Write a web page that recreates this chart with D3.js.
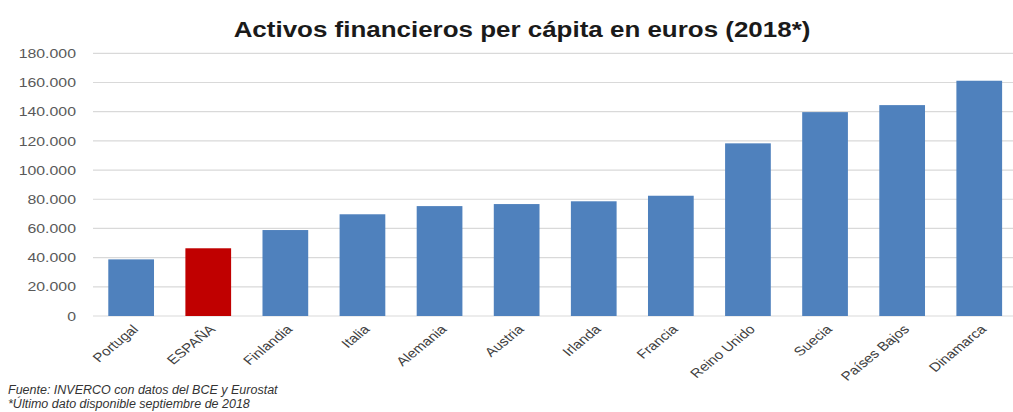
<!DOCTYPE html>
<html>
<head>
<meta charset="utf-8">
<script src="https://cdn.jsdelivr.net/npm/d3@7"></script>
<style>
  body { margin: 0; background: #fff; }
  text { font-family: "Liberation Sans", Arial, sans-serif; }
</style>
</head>
<body>
<div class="canvas"></div>
<script>
// data
const paises = ['Portugal', 'ESPAÑA', 'Finlandia', 'Italia', 'Alemania', 'Austria',
                'Irlanda', 'Francia', 'Reino Unido', 'Suecia', 'Países Bajos', 'Dinamarca']
const activos = [38800, 46400, 58900, 69700, 75300, 76700, 78600, 82400, 118300, 139700, 144500, 161200]
const yTicks = [0, 20000, 40000, 60000, 80000, 100000, 120000, 140000, 160000, 180000]
const destacado = 'ESPAÑA'

const W = 1013, H = 412
// the original picture is a bit stretched sideways
const stretch = 1.22

const svg = d3.select('.canvas').append('svg')
            .attr('width', W)
            .attr('height', H)

const locale = d3.formatLocale({decimal: ',', thousands: '.', grouping: [3], currency: ['', '€']})
const fmt = locale.format(',')

//scales
const y = d3.scaleLinear()
            .domain([0, 180000])
            .range([316, 53.3])

const x = d3.scaleBand()
            .domain(paises)
            .range([92.6, 1017.8])
            .paddingInner(0.407)
            .paddingOuter(0.2035)

//title
svg.append('text')
    .attr('transform', `translate(522, 37) scale(1.18, 1)`)
    .attr('text-anchor', 'middle')
    .attr('font-size', 22)
    .attr('font-weight', 'bold')
    .attr('fill', '#1a1a1a')
    .text('Activos financieros per cápita en euros (2018*)')

//gridlines + y labels
const yAxis = svg.append('g')
    .call(d3.axisLeft(y).tickValues(yTicks).tickFormat(d => fmt(d)).tickSize(0).tickPadding(0))
    .attr('transform', 'translate(76,0)')
yAxis.select('.domain').remove()
yAxis.selectAll('text')
    .attr('font-size', 13)
    .attr('fill', '#595959')
    .attr('font-family', '"Liberation Sans", Arial, sans-serif')
    .attr('transform', `scale(${stretch}, 1)`)

svg.append('g').selectAll('line')
    .data(yTicks)
    .enter().append('line')
    .attr('x1', 93)
    .attr('x2', W)
    .attr('y1', d => y(d))
    .attr('y2', d => y(d))
    .attr('stroke', '#d9d9d9')
    .attr('stroke-width', 1.2)

//bars
svg.append('g').selectAll('rect')
    .data(paises)
    .enter().append('rect')
    .attr('x', d => x(d))
    .attr('width', x.bandwidth())
    .attr('y', (d, i) => y(activos[i]))
    .attr('height', (d, i) => y(0) - y(activos[i]))
    .attr('fill', d => d === destacado ? '#c00000' : '#4f81bd')

//x labels, rotated
svg.append('g').selectAll('text')
    .data(paises)
    .enter().append('text')
    .attr('transform', d => `translate(${x(d) + x.bandwidth() / 2 + 8}, 330) scale(${stretch}, 1) rotate(-45)`)
    .attr('text-anchor', 'end')
    .attr('font-size', 12.5)
    .attr('fill', '#404040')
    .text(d => d)

//footnotes
const notas = ['Fuente: INVERCO con datos del BCE y Eurostat', '*Último dato disponible septiembre de 2018']
svg.append('g').selectAll('text')
    .data(notas)
    .enter().append('text')
    .attr('x', 8)
    .attr('y', (d, i) => 394 + i * 13.5)
    .attr('font-size', 12.5)
    .attr('font-style', 'italic')
    .attr('fill', '#333')
    .text(d => d)
</script>
</body>
</html>
